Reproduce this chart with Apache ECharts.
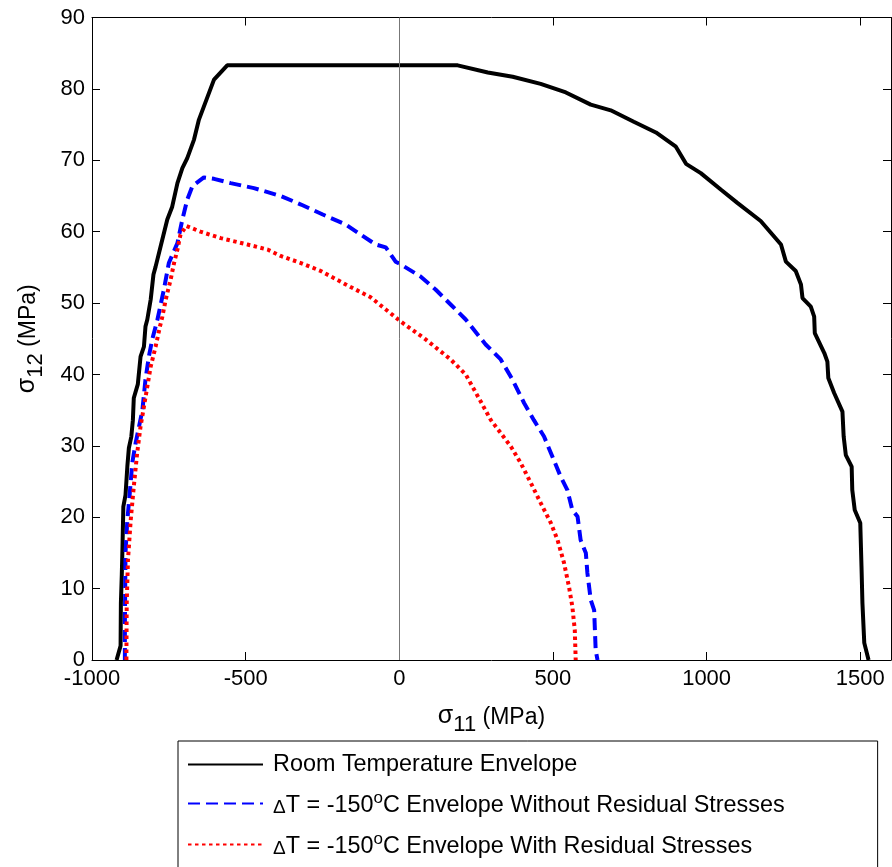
<!DOCTYPE html>
<html><head><meta charset="utf-8">
<script src="https://cdn.jsdelivr.net/npm/echarts@6/dist/echarts.min.js"></script>
<style>html,body{margin:0;padding:0;background:#fff}#c{width:892px;height:867px}</style>
</head><body><div id="c"></div><script>
// ---- data ----
var seriesNames = ['Room Temperature Envelope',
  'ΔT = -150°C Envelope Without Residual Stresses',
  'ΔT = -150°C Envelope With Residual Stresses'];
var roomX = [-920,-907,-906,-903,-901,-898,-891,-885,-880,-872,-867,-864,-851,-842,-831,-826,-820,-809,-800,-793,-777,-755,-739,-722,-706,-690,-668,-652,-603,-560,190,288,369,460,542,623,688,763,835,900,933,981,1046,1101,1176,1242,1258,1290,1307,1312,1339,1350,1352,1383,1393,1396,1415,1442,1446,1453,1472,1474,1482,1500,1504,1507,1513,1527];
var roomY = [0,2,8,12,15.4,21.5,23.1,27.1,29.7,31.3,33.6,36.7,38.6,42.5,43.9,46.7,47.7,50.5,54,55.1,57.9,61.7,63.5,66.8,68.9,70.3,72.9,75.7,81.3,83.3,83.3,82.3,81.7,80.7,79.5,77.8,77,75.4,73.9,71.9,69.5,68.2,65.9,64,61.5,58.2,55.8,54.5,52.6,50.7,49.5,48.1,45.8,43,41.8,39.5,37.4,34.8,31.3,28.7,27.1,23.8,21,19.2,13.1,8,2.4,0];
var noResX = [-893,-893,-891,-885,-877,-869,-858,-847,-836,-826,-815,-804,-787,-766,-750,-722,-706,-690,-673,-636,-603,-549,-473,-386,-320,-249,-174,-126,-77,-44,-12,5,70,118,167,216,281,330,368,406,438,471,498,525,547,563,580,590,607,612,623,634,639,645];
var noResY = [0,5,15,19.6,23.4,27.6,30.4,32.7,35,39.3,42.5,44.9,47.7,51.9,55.6,58.4,61.7,64.5,66.4,67.6,67.4,66.8,66.1,65,63.8,62.4,61,59.6,58.2,57.8,55.8,55.4,53.7,51.9,49.8,47.7,44.2,42.1,39.3,36,33.6,31.3,28.5,25.7,23.8,21,20.1,16.8,15,12.2,8.4,7,1.4,0];
var resX = [-888,-888,-887,-883,-874,-864,-853,-842,-831,-820,-809,-793,-779,-771,-760,-744,-733,-722,-712,-693,-647,-581,-494,-429,-386,-320,-256,-174,-93,-44,5,86,167,216,265,298,330,363,395,428,460,493,515,536,552,563,571,574];
var resY = [0,1,8,14,19.6,24.3,29,32.7,35.5,38.3,41.1,43.9,46.7,48.1,50.5,53.3,55.6,57.5,59.6,60.8,60,59.1,58.2,57.5,56.6,55.6,54.5,52.6,50.8,49.1,47.4,44.9,42.1,40,36.2,33.6,31.8,29.9,27.6,24.8,22,19.2,16.8,13.6,10.3,7.5,4.2,0];
var xTicks = {min: -1000, max: 1600, interval: 500};
var yTicks = {min: 0, max: 90, interval: 10};
var zeroLineX = [0];

function pairs(xs, ys) { return xs.map(function (x, i) { return [x, ys[i]]; }); }

var FONT = 'Liberation Sans, Arial, sans-serif';
var chart = echarts.init(document.getElementById('c'));
var axisCommon = {
  type: 'value',
  axisLine: {show: true, onZero: false, lineStyle: {color: '#000', width: 1}},
  axisTick: {show: true, inside: true, length: 8, lineStyle: {color: '#000', width: 1}},
  splitLine: {show: false}
};
function ax(extra, base) { return Object.assign({}, axisCommon, base, extra); }
function plain(v) { return String(v); }
var nameRich = {
  s: {fontSize: 25, fontFamily: FONT, color: '#000', verticalAlign: 'bottom', padding: [0, 0, 7, 0]},
  n: {fontSize: 23, fontFamily: FONT, color: '#000', verticalAlign: 'bottom', padding: [0, 0, 7, 0]},
  sub: {fontSize: 22, fontFamily: FONT, color: '#000', verticalAlign: 'bottom'}
};

var option = {
  animation: false,
  backgroundColor: '#fff',
  grid: {left: 92, right: 1, top: 17.5, bottom: 207, containLabel: false},
  xAxis: [
    ax({position: 'bottom',
      axisLabel: {fontSize: 22, color: '#000', fontFamily: FONT, margin: 8, showMaxLabel: false, formatter: plain},
      name: '{s|σ}{sub|11}{n| (MPa)}', nameLocation: 'middle', nameGap: 44,
      nameTextStyle: {fontFamily: FONT, color: '#000', rich: nameRich}}, xTicks),
    ax({position: 'top', axisLabel: {show: false}}, xTicks)
  ],
  yAxis: [
    ax({position: 'left',
      axisLabel: {fontSize: 22, color: '#000', fontFamily: FONT, margin: 7, formatter: plain},
      name: '{s|σ}{sub|12}{n| (MPa)}', nameLocation: 'middle', nameGap: 45,
      nameTextStyle: {fontFamily: FONT, color: '#000', rich: nameRich}}, yTicks),
    ax({position: 'right', axisLabel: {show: false}}, yTicks)
  ],
  legend: {
    orient: 'vertical', left: 178, top: 741, height: 300,
    padding: [12, 93, 20, 9], itemGap: 14,
    itemWidth: 75, itemHeight: 14,
    borderColor: '#000', borderWidth: 1,
    itemStyle: {opacity: 0},
    data: seriesNames,
    formatter: function (name) {
      if (name === seriesNames[0]) return '{n|' + name + '}';
      var rest = name.replace('ΔT = -150°C', '');
      return '{d|Δ}{n|T = -150}{sup|o}{n|C' + rest + '}';
    },
    textStyle: {fontSize: 23.4, fontFamily: FONT, color: '#000', padding: [0, 0, 0, 5], rich: {
      n: {fontSize: 23.4, fontFamily: FONT, color: '#000', verticalAlign: 'bottom'},
      d: {fontSize: 19, fontFamily: FONT, color: '#000', verticalAlign: 'bottom'},
      sup: {fontSize: 17, fontFamily: FONT, color: '#000', verticalAlign: 'bottom', padding: [0, 0, 10, 0]}
    }}
  },
  series: [
    {name: seriesNames[0], type: 'line', data: pairs(roomX, roomY), showSymbol: false, symbol: 'none',
      lineStyle: {color: '#000', width: 4}, itemStyle: {color: '#000'},
      markLine: {silent: true, symbol: 'none', label: {show: false},
        lineStyle: {color: '#777', width: 1, type: 'solid'},
        data: zeroLineX.map(function (v) { return {xAxis: v}; })}},
    {name: seriesNames[1], type: 'line', data: pairs(noResX, noResY), showSymbol: false, symbol: 'none',
      lineStyle: {color: '#0000ff', width: 4, type: [12, 6]}, itemStyle: {color: '#0000ff'}},
    {name: seriesNames[2], type: 'line', data: pairs(resX, resY), showSymbol: false, symbol: 'none',
      lineStyle: {color: '#ff0000', width: 4, type: [3.5, 3.5]}, itemStyle: {color: '#ff0000'}}
  ]
};
chart.setOption(option);
</script></body></html>
